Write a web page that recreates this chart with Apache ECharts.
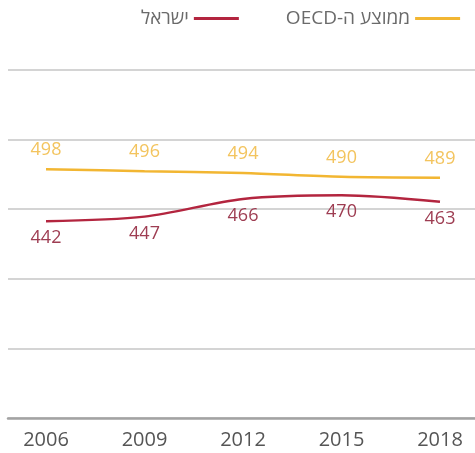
<!DOCTYPE html>
<html>
<head>
<meta charset="utf-8">
<script src="https://cdn.jsdelivr.net/npm/echarts@6/dist/echarts.min.js"></script>
<style>
  html, body { margin: 0; padding: 0; background: #fff; }
  #chart { width: 475px; height: 453px; }
</style>
</head>
<body>
<div id="chart"></div>
<script>
// PISA mathematics scores: Israel vs OECD average
const years = ['2006', '2009', '2012', '2015', '2018'];
const israelScores = [442, 447, 466, 470, 463];
const oecdScores = [498, 496, 494, 490, 489];

const israelName = '\u202Bישראל\u202C';
const oecdName = '\u202Bממוצע ה-OECD\u202C';

const israelColor = '#b3253f';
const oecdColor = '#f2b632';
const fontFamily = '"Open Sans", "Noto Sans", sans-serif';

const chart = echarts.init(document.getElementById('chart'));

chart.setOption({
  animation: false,
  backgroundColor: '#ffffff',
  textStyle: { fontFamily: fontFamily },
  legend: {
    top: 4,
    left: 136,
    width: 600,
    orient: 'horizontal',
    align: 'right',
    itemWidth: 45,
    itemHeight: 3,
    itemGap: 47,
    icon: 'rect',
    textStyle: { fontSize: 19, color: '#6a6a6a', fontFamily: fontFamily },
    data: [israelName, oecdName]
  },
  grid: [
    // background rules spanning the full width
    { left: 8, right: 0, top: 70, bottom: 35 },
    // plotting area for the two series
    { left: 46, right: 35, top: 70, bottom: 35 }
  ],
  xAxis: [
    {
      gridIndex: 0, type: 'value', min: 0, max: 1,
      axisLine: { show: true, lineStyle: { color: '#a3a3a3', width: 2.5 } },
      axisTick: { show: false }, axisLabel: { show: false }, splitLine: { show: false }
    },
    {
      gridIndex: 1, type: 'category', data: years, boundaryGap: false,
      axisLine: { show: false }, axisTick: { show: false }, splitLine: { show: false },
      axisLabel: { fontSize: 20, color: '#555555', margin: 12, fontFamily: fontFamily }
    }
  ],
  yAxis: [
    {
      gridIndex: 0, type: 'value', min: 0, max: 5, interval: 1,
      axisLine: { show: false }, axisTick: { show: false }, axisLabel: { show: false },
      splitLine: { show: true, lineStyle: { color: '#d4d4d4', width: 2 } }
    },
    {
      gridIndex: 1, type: 'value', min: 230, max: 605, show: false,
      splitLine: { show: false }
    }
  ],
  series: [
    {
      name: israelName, type: 'line', xAxisIndex: 1, yAxisIndex: 1,
      data: israelScores, smooth: 0.3,
      symbol: 'circle', symbolSize: 0, showSymbol: true,
      lineStyle: { color: israelColor, width: 2.5 },
      itemStyle: { color: israelColor },
      label: { show: true, position: 'bottom', distance: 8, fontSize: 18, color: '#9e3d52', fontFamily: fontFamily }
    },
    {
      name: oecdName, type: 'line', xAxisIndex: 1, yAxisIndex: 1,
      data: oecdScores, smooth: 0.3,
      symbol: 'circle', symbolSize: 0, showSymbol: true,
      lineStyle: { color: oecdColor, width: 2.5 },
      itemStyle: { color: oecdColor },
      label: { show: true, position: 'top', distance: 10, fontSize: 18, color: '#f3c45e', fontFamily: fontFamily }
    }
  ]
});
</script>
</body>
</html>
